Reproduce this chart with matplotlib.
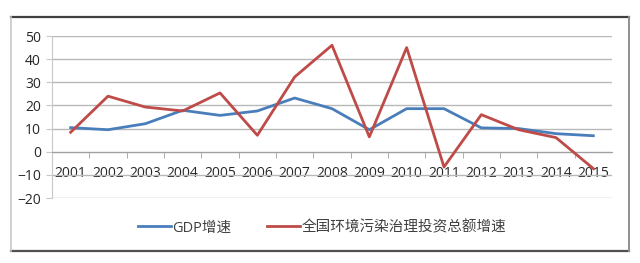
import matplotlib.pyplot as plt
from matplotlib.lines import Line2D

plt.rcParams['font.family'] = ['Open Sans', 'Noto Sans CJK SC', 'DejaVu Sans']

years = ['2001', '2002', '2003', '2004', '2005', '2006', '2007', '2008',
         '2009', '2010', '2011', '2012', '2013', '2014', '2015']
gdp_growth = [10.4, 9.5, 12.1, 17.9, 15.7, 17.6, 23.2, 18.6,
              9.5, 18.6, 18.6, 10.3, 10.0, 7.8, 6.9]
pollution_invest_growth = [8.4, 24.0, 19.3, 17.6, 25.4, 7.1, 32.3, 46.0,
                           6.4, 45.0, -6.6, 16.0, 9.5, 6.1, -7.3]
series_names = ['GDP增速', '全国环境污染治理投资总额增速']

blue = '#4a7ebb'
red = '#be4b48'
grid_c = '#b8b8b8'

fig = plt.figure(figsize=(6.4, 2.63), dpi=100)

# outer frame of the chart box
W, H = 640, 263
fig.add_artist(Line2D([11 / W, 629 / W], [1 - 17 / H, 1 - 17 / H], color='#404040', lw=1.6))
fig.add_artist(Line2D([11 / W, 629 / W], [1 - 251 / H, 1 - 251 / H], color='#505050', lw=1.6))
fig.add_artist(Line2D([11 / W, 11 / W], [1 - 17 / H, 1 - 251 / H], color='#c8c8c8', lw=1.2))
fig.add_artist(Line2D([629 / W, 629 / W], [1 - 17 / H, 1 - 251 / H], color='#909090', lw=1.4))

ax = fig.add_axes([52 / W, 1 - 198 / H, (612 - 52) / W, (198 - 36) / H])
x = list(range(len(years)))
ax.plot(x, gdp_growth, color=blue, lw=2.0, label=series_names[0], zorder=3)
ax.plot(x, pollution_invest_growth, color=red, lw=2.0, label=series_names[1], zorder=3)

ax.set_xlim(-0.5, len(years) - 0.5)
ax.set_ylim(-20, 50)
ax.set_yticks(range(-20, 51, 10))
ax.yaxis.grid(True, color=grid_c, lw=1)
ax.set_axisbelow(True)

for s in ['top', 'right']:
    ax.spines[s].set_visible(False)
ax.spines['left'].set_color('#c8c8c8')
ax.spines['bottom'].set_position(('data', 0))
ax.spines['bottom'].set_color('#a0a0a0')

ax.set_xticks(x)
ax.set_xticklabels(years)
ax.set_xticks([i + 0.5 for i in x[:-1]] + [-0.5], minor=True)
ax.tick_params(axis='x', which='major', length=0, pad=10, labelsize=10, colors='#262626')
ax.tick_params(axis='x', which='minor', length=4, color='#a0a0a0')
ax.tick_params(axis='y', length=4, color='#c8c8c8', labelsize=10, labelcolor='#262626', pad=4)

fig.legend(loc='center', bbox_to_anchor=(322 / W, 1 - 228 / H), ncol=2, frameon=False,
           fontsize=10.5, handlelength=2.3, handletextpad=0.1, columnspacing=2.4,
           labelcolor='#404040')

fig.savefig('out.png', dpi=100)
